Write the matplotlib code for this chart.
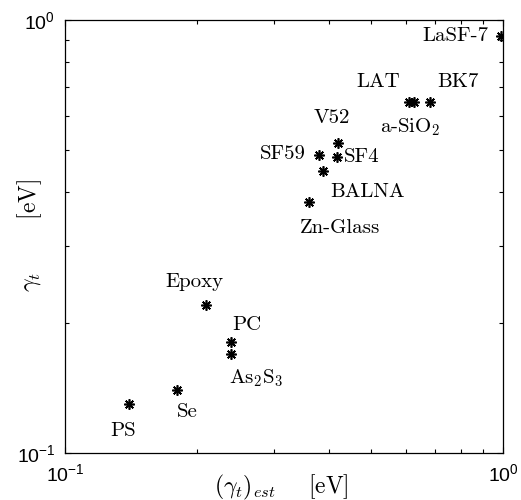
import numpy as np
import matplotlib
matplotlib.use('Agg')
import matplotlib.pyplot as plt
from matplotlib.ticker import LogLocator, NullFormatter

plt.rcParams['font.family'] = ['Liberation Sans', 'DejaVu Sans']
plt.rcParams['mathtext.fontset'] = 'cm'

# estimated vs measured gamma_t [eV]
names = ['LaSF-7', 'LAT', 'a-SiO$_2$', 'BK7', 'V52', 'SF4', 'SF59', 'BALNA',
         'Zn-Glass', 'Epoxy', 'PC', 'As$_2$S$_3$', 'Se', 'PS']
gamma_est = [0.99, 0.61, 0.627, 0.681, 0.419, 0.418, 0.381, 0.388,
             0.360, 0.210, 0.239, 0.239, 0.180, 0.140]
gamma_t = [0.918, 0.647, 0.647, 0.647, 0.521, 0.483, 0.489, 0.449,
           0.379, 0.2196, 0.180, 0.169, 0.140, 0.1295]

# label offsets in pixels relative to the marker
label_off = [(-46, 0), (-31, 20), (-4, -25), (28, 20), (-6, 25), (25, 0),
             (-37, 0), (45, -21), (31, -26), (-12, 23), (16, 17), (26, -24),
             (11, -22), (-6, -27)]

fig = plt.figure(figsize=(5.21, 5.0), dpi=100)
ax = fig.add_axes([65/521, 1-453/500, 438/521, 433/500])

ax.plot(gamma_est, gamma_t, linestyle='none', marker=(8, 2, 0),
        markersize=7.5, markeredgewidth=1.2, color='black')

for name, x, y, off in zip(names, gamma_est, gamma_t, label_off):
    ax.annotate(name, (x, y), xytext=off, textcoords='offset pixels',
                ha='center', va='center', fontsize=15, family='cmr10')

ax.set_xscale('log')
ax.set_yscale('log')
ax.set_xlim(0.1, 1.0)
ax.set_ylim(0.1, 1.0)

for a in (ax.xaxis, ax.yaxis):
    a.set_major_locator(LogLocator(base=10, numticks=3))
    a.set_minor_locator(LogLocator(base=10, subs=np.arange(2, 10), numticks=12))
    a.set_minor_formatter(NullFormatter())

ax.tick_params(which='both', direction='in', top=True, right=True, width=0.8)
ax.tick_params(which='major', length=4, labelsize=14, pad=7)
ax.tick_params(which='minor', length=3)
for s in ax.spines.values():
    s.set_linewidth(0.9)

fig.text(281/521, 1-487/500, r'$(\gamma_t)_{est}\quad\;\;[\mathrm{eV}]$',
         ha='center', va='center', fontsize=17)
fig.text(30/521, 1-235/500, r'$\gamma_t\quad\quad\;\;[\mathrm{eV}]$',
         ha='center', va='center', fontsize=17, rotation=90)

fig.savefig('out.png', dpi=100)
